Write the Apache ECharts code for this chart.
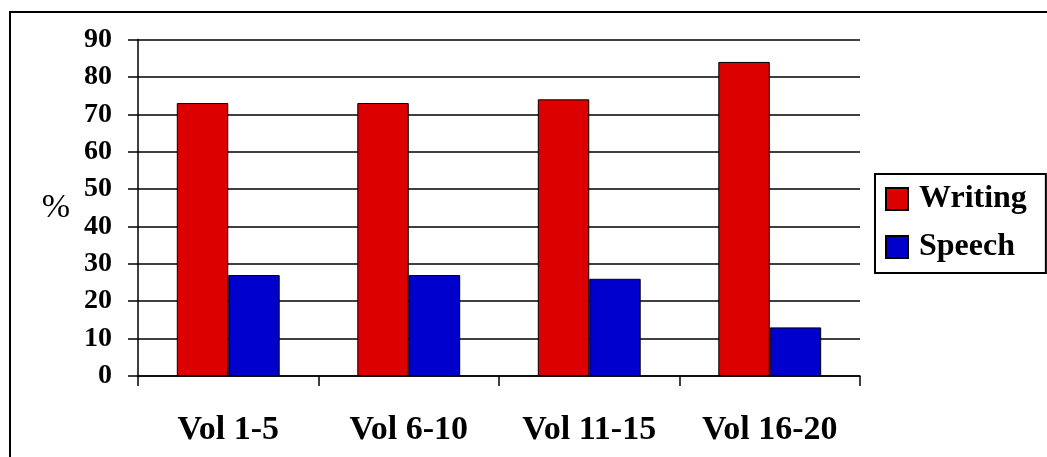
<!DOCTYPE html>
<html>
<head>
<meta charset="utf-8">
<script src="https://cdn.jsdelivr.net/npm/echarts@6/dist/echarts.min.js"></script>
<style>
  html, body { margin: 0; padding: 0; background: #fff; }
  #chart { width: 1047px; height: 457px; }
</style>
</head>
<body>
<div id="chart"></div>
<script>
// Share of writing vs. speech per group of volumes (%)
const categories = ['Vol 1-5', 'Vol 6-10', 'Vol 11-15', 'Vol 16-20'];
const writing = [73, 73, 74, 84];
const speech = [27, 27, 26, 13];
const seriesNames = ['Writing', 'Speech'];
const yUnit = '%';

const FONT = '"Liberation Serif", "Times New Roman", serif';

const chart = echarts.init(document.getElementById('chart'), null, { renderer: 'canvas' });

chart.setOption({
  backgroundColor: '#fff',
  animation: false,
  graphic: [{
    type: 'rect',
    shape: { x: 10, y: 12, width: 1200, height: 600 },
    style: { fill: 'none', stroke: '#000', lineWidth: 2 },
    silent: true
  }],
  grid: { left: 138, right: 187, top: 39.5, bottom: 81, containLabel: false },
  legend: {
    orient: 'vertical',
    left: 875,
    top: 174,
    padding: [9, 19, 10, 10],
    itemGap: 16,
    itemWidth: 22,
    itemHeight: 22,
    icon: 'rect',
    borderColor: '#000',
    borderWidth: 2,
    backgroundColor: '#fff',
    textStyle: {
      fontFamily: FONT, fontWeight: 'bold', fontSize: 32, color: '#000',
      lineHeight: 32, padding: [0, 0, 0, 6]
    },
    data: seriesNames
  },
  xAxis: {
    type: 'category',
    data: categories,
    axisLine: { lineStyle: { color: '#000', width: 1.5 } },
    axisTick: { show: true, length: 10, alignWithLabel: false, lineStyle: { color: '#000', width: 1.5 } },
    axisLabel: {
      fontFamily: FONT, fontWeight: 'bold', fontSize: 34, color: '#000', margin: 37
    },
    splitLine: { show: false }
  },
  yAxis: {
    type: 'value',
    min: 0,
    max: 90,
    interval: 10,
    name: yUnit,
    nameLocation: 'middle',
    nameRotate: 0,
    nameGap: 68,
    nameTextStyle: { fontFamily: FONT, fontSize: 34, color: '#000' },
    axisLine: { show: true, lineStyle: { color: '#000', width: 1.5 } },
    axisTick: { show: true, length: 10, lineStyle: { color: '#000', width: 1.5 } },
    axisLabel: {
      fontFamily: FONT, fontWeight: 'bold', fontSize: 28, color: '#000', margin: 26
    },
    splitLine: { show: true, lineStyle: { color: '#000', width: 1.5 } }
  },
  series: [
    {
      name: seriesNames[0],
      type: 'bar',
      data: writing,
      barGap: '0%',
      barCategoryGap: '43%',
      itemStyle: { color: '#dd0000', borderColor: '#000', borderWidth: 1 }
    },
    {
      name: seriesNames[1],
      type: 'bar',
      data: speech,
      itemStyle: { color: '#0000cc', borderColor: '#000', borderWidth: 1 }
    }
  ]
});
</script>
</body>
</html>
